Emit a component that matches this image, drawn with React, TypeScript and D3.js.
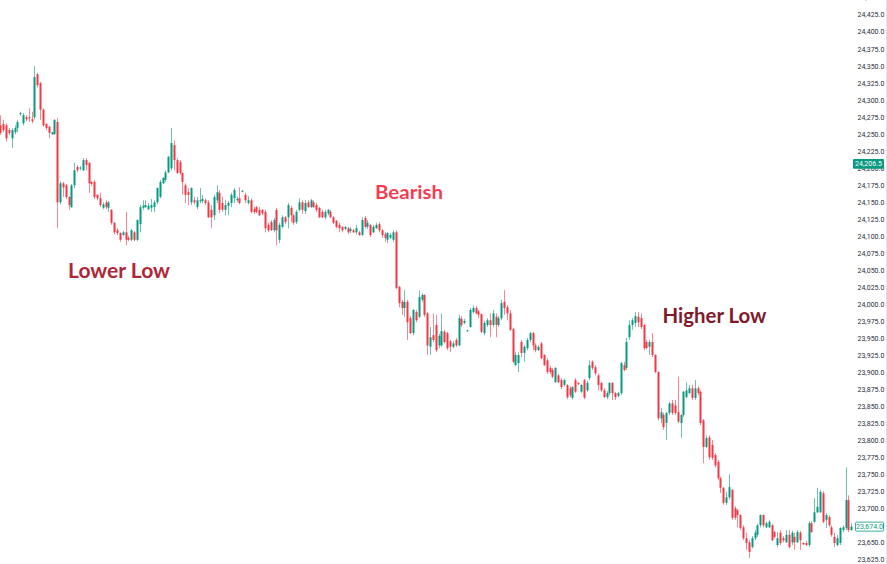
import * as d3 from "d3";

// OHLC candles, oldest first: [open, high, low, close]
const ohlc: [number, number, number, number][] = [
  [24263, 24278, 24249, 24252], [24265, 24271, 24253, 24256], [24263, 24266, 24239, 24244], [24256, 24259, 24249, 24252],
  [24244, 24259, 24230, 24256], [24253, 24263, 24250, 24259], [24259, 24271, 24253, 24268], [24280, 24283, 24277, 24281],
  [24266, 24281, 24263, 24278], [24275, 24278, 24269, 24272], [24275, 24288, 24268, 24274], [24272, 24283, 24266, 24269],
  [24275, 24350, 24272, 24334], [24338, 24340, 24319, 24322], [24325, 24327, 24271, 24286], [24286, 24288, 24261, 24263],
  [24265, 24266, 24256, 24259], [24261, 24262, 24244, 24252], [24250, 24253, 24249, 24253], [24250, 24272, 24249, 24271],
  [24268, 24274, 24112, 24150], [24150, 24181, 24147, 24178], [24178, 24180, 24158, 24172], [24175, 24177, 24155, 24158],
  [24158, 24159, 24139, 24146], [24143, 24177, 24142, 24175], [24175, 24208, 24171, 24197], [24202, 24205, 24194, 24197],
  [24200, 24203, 24197, 24201], [24197, 24215, 24196, 24212], [24212, 24215, 24197, 24205], [24208, 24209, 24164, 24178],
  [24180, 24181, 24174, 24177], [24180, 24183, 24155, 24158], [24161, 24162, 24153, 24156], [24156, 24164, 24143, 24146],
  [24142, 24150, 24140, 24147], [24150, 24153, 24140, 24143], [24142, 24152, 24136, 24150], [24139, 24140, 24117, 24120],
  [24120, 24121, 24103, 24106], [24109, 24112, 24102, 24105], [24105, 24106, 24092, 24095], [24102, 24108, 24101, 24106],
  [24106, 24136, 24087, 24095], [24098, 24101, 24093, 24095], [24095, 24111, 24093, 24109], [24106, 24108, 24093, 24095],
  [24095, 24125, 24093, 24124], [24118, 24146, 24106, 24143], [24142, 24153, 24139, 24145], [24143, 24153, 24142, 24146],
  [24140, 24149, 24139, 24145], [24142, 24155, 24136, 24146], [24143, 24153, 24136, 24150], [24150, 24172, 24147, 24171],
  [24158, 24183, 24156, 24180], [24178, 24187, 24177, 24186], [24183, 24197, 24180, 24194], [24194, 24218, 24193, 24217],
  [24200, 24259, 24197, 24237], [24234, 24241, 24197, 24212], [24212, 24215, 24192, 24193], [24209, 24212, 24190, 24193],
  [24193, 24194, 24161, 24180], [24175, 24178, 24149, 24161], [24165, 24171, 24146, 24161], [24150, 24172, 24146, 24171],
  [24153, 24158, 24147, 24150], [24143, 24158, 24140, 24153], [24152, 24171, 24149, 24153], [24152, 24161, 24149, 24155],
  [24153, 24156, 24146, 24149], [24150, 24153, 24127, 24128], [24139, 24146, 24112, 24128], [24131, 24161, 24124, 24158],
  [24153, 24175, 24149, 24165], [24164, 24168, 24134, 24139], [24149, 24158, 24136, 24139], [24139, 24153, 24131, 24146],
  [24145, 24152, 24131, 24149], [24149, 24164, 24143, 24161], [24156, 24171, 24149, 24168], [24153, 24158, 24150, 24155],
  [24156, 24172, 24147, 24149], [24166, 24168, 24165, 24167], [24161, 24164, 24149, 24153], [24149, 24159, 24147, 24153],
  [24153, 24156, 24134, 24136], [24140, 24143, 24133, 24136], [24143, 24145, 24134, 24136], [24139, 24143, 24130, 24131],
  [24139, 24140, 24131, 24134], [24136, 24139, 24106, 24112], [24117, 24120, 24106, 24109], [24121, 24124, 24108, 24109],
  [24109, 24127, 24106, 24124], [24139, 24142, 24087, 24109], [24095, 24120, 24090, 24117], [24114, 24131, 24112, 24128],
  [24128, 24130, 24118, 24121], [24128, 24149, 24112, 24146], [24142, 24145, 24121, 24131], [24131, 24133, 24117, 24120],
  [24121, 24139, 24118, 24136], [24139, 24156, 24137, 24150], [24150, 24153, 24133, 24139], [24137, 24153, 24133, 24149],
  [24150, 24153, 24142, 24143], [24143, 24155, 24142, 24153], [24150, 24153, 24142, 24143], [24146, 24149, 24136, 24139],
  [24142, 24143, 24127, 24128], [24136, 24139, 24127, 24128], [24128, 24139, 24125, 24136], [24134, 24140, 24131, 24139],
  [24136, 24139, 24127, 24128], [24128, 24130, 24118, 24120], [24123, 24124, 24112, 24114], [24117, 24120, 24106, 24112],
  [24114, 24115, 24106, 24109], [24111, 24115, 24109, 24114], [24112, 24114, 24103, 24106], [24108, 24114, 24105, 24111],
  [24109, 24111, 24105, 24106], [24106, 24117, 24103, 24112], [24106, 24108, 24101, 24102], [24102, 24128, 24101, 24124],
  [24127, 24130, 24112, 24114], [24114, 24124, 24111, 24120], [24117, 24118, 24099, 24102], [24106, 24117, 24105, 24114],
  [24112, 24120, 24111, 24117], [24118, 24121, 24106, 24109], [24109, 24111, 24098, 24102], [24103, 24106, 24092, 24098],
  [24095, 24106, 24090, 24105], [24098, 24105, 24096, 24102], [24095, 24109, 24092, 24106], [24106, 24109, 24023, 24024],
  [24026, 24027, 23996, 24002], [24004, 24007, 23985, 23995], [23995, 24021, 23982, 24004], [24004, 24007, 23948, 23974],
  [23980, 23983, 23957, 23958], [23958, 23993, 23955, 23992], [23989, 23992, 23974, 23977], [23982, 24021, 23980, 24011],
  [24007, 24017, 24004, 24014], [24014, 24015, 23982, 23985], [23987, 23989, 23926, 23940], [23938, 23967, 23926, 23952],
  [23955, 23987, 23945, 23948], [23970, 23985, 23930, 23933], [23940, 23957, 23936, 23954], [23940, 23987, 23938, 23961],
  [23960, 23963, 23943, 23945], [23958, 23960, 23933, 23936], [23946, 23948, 23930, 23938], [23938, 23946, 23936, 23943],
  [23948, 23951, 23938, 23940], [23940, 23985, 23939, 23980], [23979, 23983, 23967, 23970], [23973, 23979, 23971, 23976],
  [23961, 23963, 23960, 23962], [23967, 23995, 23966, 23992], [23989, 23999, 23987, 23995], [23995, 23998, 23986, 23987],
  [23990, 23992, 23980, 23985], [23986, 23987, 23958, 23960], [23958, 23976, 23955, 23973], [23970, 23980, 23967, 23977],
  [23977, 23987, 23952, 23970], [23970, 23992, 23967, 23987], [23982, 23987, 23952, 23970], [23970, 23983, 23967, 23980],
  [23980, 24007, 23977, 24002], [24004, 24021, 23985, 23995], [23996, 23999, 23977, 23987], [23987, 23992, 23961, 23963],
  [23964, 23966, 23914, 23916], [23911, 23930, 23910, 23926], [23914, 23930, 23901, 23926], [23945, 23948, 23923, 23929],
  [23929, 23940, 23916, 23938], [23936, 23951, 23933, 23948], [23948, 23960, 23945, 23958], [23958, 23960, 23933, 23940],
  [23940, 23943, 23930, 23933], [23933, 23940, 23932, 23938], [23943, 23945, 23920, 23921], [23926, 23927, 23910, 23911],
  [23918, 23921, 23898, 23901], [23907, 23910, 23898, 23901], [23904, 23907, 23892, 23894], [23886, 23908, 23885, 23907],
  [23896, 23898, 23885, 23886], [23889, 23892, 23876, 23879], [23882, 23891, 23880, 23889], [23882, 23883, 23861, 23864],
  [23877, 23880, 23864, 23867], [23863, 23880, 23861, 23879], [23889, 23892, 23870, 23872], [23885, 23886, 23882, 23883],
  [23872, 23883, 23870, 23882], [23889, 23891, 23861, 23863], [23874, 23888, 23872, 23885], [23892, 23918, 23889, 23911],
  [23916, 23918, 23904, 23907], [23908, 23911, 23896, 23899], [23896, 23899, 23874, 23882], [23885, 23886, 23872, 23874],
  [23874, 23877, 23863, 23864], [23864, 23873, 23861, 23870], [23870, 23886, 23867, 23885], [23885, 23886, 23860, 23870],
  [23870, 23872, 23860, 23864], [23866, 23872, 23864, 23870], [23870, 23916, 23867, 23914], [23911, 23916, 23902, 23904],
  [23907, 23951, 23904, 23945], [23952, 23977, 23948, 23970], [23970, 23980, 23963, 23977], [23973, 23989, 23967, 23983],
  [23982, 23989, 23967, 23974], [23980, 23987, 23964, 23967], [23970, 23971, 23933, 23936], [23945, 23948, 23935, 23936],
  [23938, 23948, 23926, 23945], [23945, 23958, 23923, 23926], [23926, 23927, 23899, 23901], [23901, 23902, 23830, 23833],
  [23833, 23848, 23826, 23842], [23838, 23841, 23816, 23820], [23826, 23842, 23801, 23841], [23841, 23857, 23838, 23855],
  [23855, 23860, 23838, 23841], [23852, 23860, 23838, 23841], [23842, 23894, 23826, 23828], [23826, 23839, 23804, 23838],
  [23838, 23873, 23835, 23872], [23864, 23886, 23863, 23874], [23870, 23882, 23869, 23877], [23877, 23882, 23860, 23863],
  [23863, 23889, 23860, 23877], [23877, 23880, 23867, 23870], [23872, 23874, 23823, 23826], [23830, 23832, 23767, 23791],
  [23791, 23808, 23789, 23804], [23805, 23808, 23772, 23776], [23794, 23801, 23772, 23775], [23779, 23782, 23761, 23764],
  [23769, 23772, 23742, 23745], [23745, 23747, 23723, 23731], [23731, 23732, 23706, 23709], [23709, 23725, 23706, 23717],
  [23717, 23751, 23714, 23732], [23728, 23729, 23684, 23687], [23701, 23704, 23684, 23687], [23698, 23700, 23673, 23691],
  [23691, 23692, 23669, 23672], [23673, 23676, 23654, 23657], [23657, 23665, 23640, 23650], [23651, 23654, 23628, 23637],
  [23644, 23660, 23642, 23657], [23657, 23669, 23654, 23665], [23662, 23678, 23659, 23676], [23676, 23692, 23673, 23691],
  [23691, 23692, 23673, 23676], [23673, 23681, 23672, 23679], [23673, 23684, 23672, 23681], [23676, 23678, 23653, 23654],
  [23666, 23668, 23657, 23659], [23647, 23666, 23644, 23657], [23665, 23669, 23647, 23650], [23657, 23660, 23651, 23654],
  [23651, 23669, 23650, 23662], [23662, 23669, 23642, 23644], [23651, 23668, 23647, 23665], [23659, 23665, 23640, 23651],
  [23651, 23669, 23650, 23666], [23665, 23668, 23640, 23654], [23650, 23651, 23647, 23648], [23650, 23653, 23645, 23647],
  [23647, 23682, 23644, 23679], [23679, 23682, 23665, 23666], [23681, 23716, 23679, 23695], [23695, 23731, 23694, 23703],
  [23695, 23728, 23694, 23725], [23723, 23726, 23679, 23681], [23684, 23694, 23672, 23691], [23688, 23691, 23673, 23676],
  [23673, 23676, 23659, 23662], [23659, 23665, 23644, 23650], [23647, 23662, 23645, 23657], [23650, 23673, 23647, 23672],
  [23669, 23676, 23666, 23673], [23672, 23761, 23669, 23713], [23713, 23720, 23666, 23669], [23669, 23679, 23668, 23674],
];

// price-scale labels, every 25 points
const priceLevels = [
  23625, 23650, 23675, 23700, 23725, 23750, 23775, 23800, 23825, 23850, 23875, 23900,
  23925, 23950, 23975, 24000, 24025, 24050, 24075, 24100, 24125, 24150, 24175, 24200,
  24225, 24250, 24275, 24300, 24325, 24350, 24375, 24400, 24425, 24450,
];

// second price marker shown on the scale
const markerPrice = 24206.5;

const annotations = ["Lower Low", "Bearish", "Higher Low"];

const UP = "#089981";
const DOWN = "#f23645";

export default function App() {
  const width = 887;
  const height = 564;
  const plotRight = 853.7;

  const x = d3
    .scaleBand<number>()
    .domain(d3.range(ohlc.length))
    .range([-0.1, plotRight]);
  const step = x.step();

  const y = d3.scaleLinear().domain([23625, 24425]).range([560, 15]);
  const fmt = d3.format(",.1f");

  const lastClose = ohlc[ohlc.length - 1][3];

  // annotation layout: [x, baseline, width, size, colour]
  const labelLayout: [number, number, number, number, string][] = [
    [68, 277.5, 102, 21, "#ad2739"],
    [375, 198.5, 68, 19.5, "#f23d52"],
    [662.5, 323.3, 104, 21, "#7e1b2b"],
  ];

  return (
    <div style={{ position: "absolute", left: 0, top: 0 }}>
      <svg width={width} height={height} style={{ display: "block", background: "#fff" }}>
        <g>
          {ohlc.map(([o, h, l, c], i) => {
            const cx = (x(i) ?? 0) + step / 2;
            const left = Math.round(cx) - 1;
            const color = c >= o ? UP : DOWN;
            const top = y(Math.max(o, c));
            const bot = y(Math.min(o, c));
            return (
              <g key={i}>
                <rect
                  x={left}
                  width={1}
                  y={y(h)}
                  height={Math.max(1, y(l) - y(h))}
                  fill={color}
                  opacity={0.6}
                />
                <rect
                  x={left - 0.5}
                  width={2}
                  y={top}
                  height={Math.max(1, bot - top)}
                  fill={color}
                />
              </g>
            );
          })}
        </g>

        {annotations.map((t, k) => {
          const [ax, ay, aw, fs, col] = labelLayout[k];
          return (
            <text
              key={t}
              x={ax}
              y={ay}
              textLength={aw}
              lengthAdjust="spacingAndGlyphs"
              fill={col}
              fontFamily="Lato, 'Open Sans', sans-serif"
              fontWeight={700}
              fontSize={fs}
            >
              {t}
            </text>
          );
        })}

        <line x1={886.5} x2={886.5} y1={0} y2={height} stroke="#e0e3eb" />

        <g fontFamily="Roboto, 'Noto Sans', sans-serif" fontSize={7} fill="#2a2e39">
          {priceLevels.map((p) => (
            <text key={p} x={857.5} y={y(p)} dy="0.35em">
              {fmt(p)}
            </text>
          ))}
        </g>

        <g fontFamily="Roboto, 'Noto Sans', sans-serif" fontSize={7}>
          <rect x={853} y={y(markerPrice) - 4.8} width={31} height={9.6} rx={1} fill={UP} />
          <text x={868.5} y={y(markerPrice)} dy="0.35em" textAnchor="middle" fill="#fff">
            {fmt(markerPrice)}
          </text>
          <rect
            x={855.5}
            y={y(lastClose) - 4.5}
            width={28}
            height={9}
            rx={1}
            fill="#fff"
            stroke={UP}
            strokeWidth={0.8}
          />
          <text x={869.5} y={y(lastClose)} dy="0.35em" textAnchor="middle" fill={UP}>
            {fmt(lastClose)}
          </text>
        </g>
      </svg>
    </div>
  );
}
